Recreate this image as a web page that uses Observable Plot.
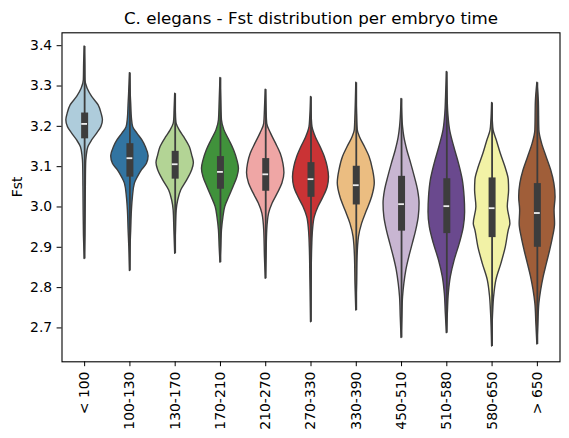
<!DOCTYPE html>
<html>
<head>
<meta charset="utf-8">
<script src="https://cdn.jsdelivr.net/npm/d3@7"></script>
<script src="https://cdn.jsdelivr.net/npm/@observablehq/plot@0.6"></script>
<style>
  html, body { margin: 0; padding: 0; background: #fff; }
</style>
</head>
<body>
<div id="chart"></div>
<script>
// ---- data ----
const title = "C. elegans - Fst distribution per embryo time";
const yLabel = "Fst";
const categories = ["< 100", "100-130", "130-170", "170-210", "210-270", "270-330", "330-390", "450-510", "510-580", "580-650", "> 650"];
const basePalette = ["#a6cee3", "#1f78b4", "#b2df8a", "#33a02c", "#fb9a99", "#e31a1c", "#fdbf6f", "#cab2d6", "#6a3d9a", "#ffff99", "#b15928"];
const yTickValues = [2.7, 2.8, 2.9, 3.0, 3.1, 3.2, 3.3, 3.4];

const medians = [3.206, 3.121, 3.106, 3.087, 3.081, 3.069, 3.054, 3.007, 3.002, 2.997, 2.985];
const q1 = [3.169, 3.074, 3.069, 3.044, 3.039, 3.024, 3.005, 2.940, 2.934, 2.924, 2.900];
const q3 = [3.233, 3.157, 3.138, 3.125, 3.120, 3.110, 3.101, 3.076, 3.070, 3.072, 3.058];
const whiskerHigh = [3.398, 3.332, 3.281, 3.320, 3.291, 3.273, 3.308, 3.268, 3.335, 3.258, 3.308];
const whiskerLow = [2.871, 2.841, 2.884, 2.862, 2.822, 2.714, 2.743, 2.675, 2.687, 2.654, 2.659];

// violin density profiles: [Fst value, relative half-width]
const violinProfiles = [
  [[3.398,0],[3.355,0.5],[3.314,0.8],[3.293,3],[3.273,7.5],[3.252,14],[3.231,17],[3.215,18.3],[3.198,16.7],[3.182,12.5],[3.165,7.5],[3.148,3.7],[3.124,2],[3.107,1.5],[3.05,1.2],[2.991,1],[2.93,0.7],[2.871,0]],
  [[3.332,0],[3.28,0.8],[3.256,1.3],[3.22,2],[3.198,3.3],[3.182,7.5],[3.165,12.5],[3.148,16],[3.126,18.7],[3.107,17],[3.091,12],[3.074,8],[3.058,5],[3.024,3],[2.991,2],[2.942,1.3],[2.9,0.6],[2.841,0]],
  [[3.281,0],[3.24,0.6],[3.215,1],[3.206,1.5],[3.19,4.5],[3.173,9],[3.148,14.7],[3.128,17],[3.109,18.7],[3.091,17],[3.066,12],[3.041,6],[3.016,3],[2.991,1.5],[2.942,0.8],[2.884,0]],
  [[3.32,0],[3.26,0.8],[3.215,1.5],[3.19,4],[3.165,9],[3.14,13.7],[3.115,17],[3.095,18.5],[3.074,17],[3.049,13],[3.024,8.7],[3.0,4.8],[2.975,3],[2.942,1.5],[2.9,0.8],[2.862,0]],
  [[3.291,0],[3.24,0.8],[3.206,1.5],[3.182,5.3],[3.157,10.3],[3.132,15],[3.107,17.7],[3.084,18.7],[3.058,16.7],[3.033,12],[3.008,6.8],[2.983,3.3],[2.942,1.5],[2.876,0.8],[2.822,0]],
  [[3.273,0],[3.22,0.8],[3.198,1.5],[3.173,4.8],[3.148,9.7],[3.124,13.8],[3.099,16.7],[3.074,18],[3.049,16.7],[3.024,12.5],[3.0,7.5],[2.975,3.8],[2.942,2],[2.9,1.2],[2.818,0.6],[2.714,0]],
  [[3.308,0],[3.23,0.8],[3.19,1.5],[3.173,3.7],[3.148,8.8],[3.124,13.3],[3.091,16.8],[3.059,18.5],[3.024,15.8],[2.991,10.8],[2.958,5.8],[2.925,2.7],[2.876,1.3],[2.809,0.8],[2.743,0]],
  [[3.268,0],[3.22,0.8],[3.198,1.5],[3.173,2.8],[3.14,5.8],[3.107,9.7],[3.074,13.3],[3.041,16.5],[3.008,18],[2.975,17.2],[2.942,14.7],[2.909,11.3],[2.876,7.8],[2.843,4.8],[2.809,2.8],[2.776,1.5],[2.727,0.8],[2.675,0]],
  [[3.335,0],[3.27,0.8],[3.231,1.5],[3.19,3.3],[3.148,7.5],[3.107,12.2],[3.066,16],[3.024,17.8],[2.987,18.3],[2.95,17],[2.909,13],[2.867,7.8],[2.826,4],[2.785,2],[2.735,1],[2.687,0]],
  [[3.258,0],[3.21,0.8],[3.19,1.5],[3.165,4.7],[3.132,8.7],[3.099,13.3],[3.066,16.7],[3.041,17],[3.0,15.7],[2.958,18.3],[2.942,16.7],[2.9,13.7],[2.859,9.3],[2.818,4.3],[2.776,2],[2.735,1],[2.654,0]],
  [[3.308,0],[3.26,1.5],[3.19,2],[3.157,4.7],[3.124,9.2],[3.091,13.8],[3.058,17],[3.024,18.2],[2.991,17.2],[2.958,17.7],[2.925,15.7],[2.892,12.8],[2.859,9.5],[2.826,6.3],[2.793,3.8],[2.76,2],[2.71,1],[2.659,0]]
];

// ---- layout / style ----
const W = 569, H = 438;
const mL = 61.5, mR = 9.5, mT = 32.3, mB = 76.7;
const pxPerCat = (W - mL - mR) / categories.length;
const gray = "#3d3d3d";
// seaborn-like desaturation (saturation 0.75)
const colors = basePalette.map(c => { const h = d3.hsl(c); h.s *= 0.75; return h.formatHex(); });

const violinRows = categories.flatMap((c, i) =>
  violinProfiles[i].map(([v, w]) => ({cat: c, i, v, w}))
);
const boxRows = categories.map((c, i) => ({
  cat: c, i, q1: q1[i], q3: q3[i], med: medians[i], lo: whiskerLow[i], hi: whiskerHigh[i]
}));

const chart = Plot.plot({
  width: W,
  height: H,
  marginLeft: mL,
  marginRight: mR,
  marginTop: mT,
  marginBottom: mB,
  style: {fontFamily: "DejaVu Sans", fontSize: "13.9px", color: "black", background: "white", overflow: "visible"},
  x: {type: "linear", domain: [-0.5, categories.length - 0.5]},
  y: {domain: [2.616, 3.432]},
  color: {domain: categories, range: colors},
  marks: [
    Plot.areaX(violinRows, {
      y: "v",
      x1: d => d.i - d.w / pxPerCat,
      x2: d => d.i + d.w / pxPerCat,
      z: "cat",
      fill: "cat",
      stroke: gray,
      strokeWidth: 1.4,
      strokeLinejoin: "round",
      curve: "monotone-y"
    }),
    Plot.ruleX(boxRows, {x: "i", y1: "lo", y2: "hi", stroke: gray, strokeWidth: 1.8}),
    Plot.ruleX(boxRows, {x: "i", y1: "q1", y2: "q3", stroke: gray, strokeWidth: 7}),
    Plot.ruleY(boxRows, {y: "med", x1: d => d.i - 2.9 / pxPerCat, x2: d => d.i + 2.9 / pxPerCat, stroke: "#eeeeee", strokeWidth: 1.8}),
    Plot.frame({stroke: "black", strokeWidth: 1.1}),
    Plot.axisY({ticks: yTickValues, tickFormat: d3.format(".1f"), tickSize: 4.9, tickPadding: 4.9, label: null}),
    Plot.axisX({ticks: d3.range(categories.length), tickFormat: i => categories[i], tickRotate: -90, tickSize: 4.9, tickPadding: 4.9, label: null}),
    Plot.text([yLabel], {frameAnchor: "left", dx: -44.5, rotate: -90, text: d => d}),
    Plot.text([title], {frameAnchor: "top", dy: -8.5, lineAnchor: "bottom", fontSize: 16.67, text: d => d})
  ]
});
document.getElementById("chart").appendChild(chart);
</script>
</body>
</html>
